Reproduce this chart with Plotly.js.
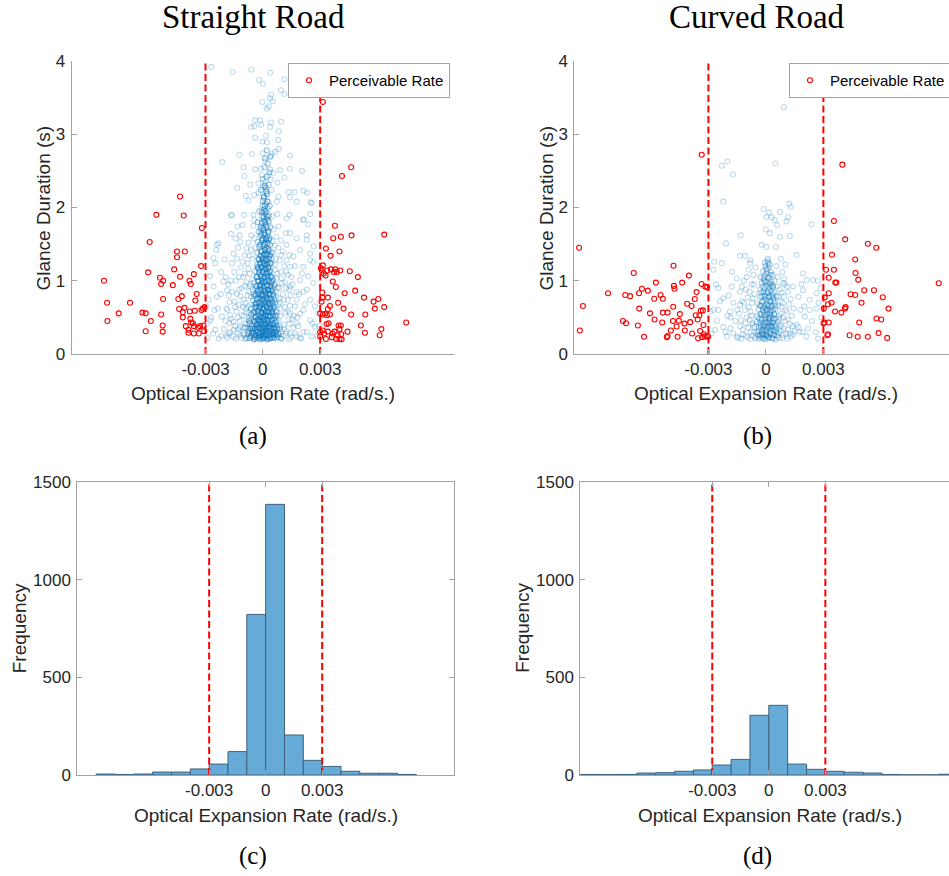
<!DOCTYPE html>
<html><head><meta charset="utf-8">
<script src="https://cdn.plot.ly/plotly-3.0.1.min.js"></script>
<style>html,body{margin:0;padding:0;overflow:hidden;background:#fff}#chart{width:960px;height:876px}</style>
</head><body><div id="chart"></div>
<script>
// ---------------- DATA ----------------
const thresholds = [-0.003, 0.003];
const xTickVals = [-0.003, 0, 0.003];
const xTickText = ['-0.003', '0', '0.003'];
const glanceTicks = [0, 1, 2, 3, 4];
const freqTicks = [0, 500, 1000, 1500];
const xRange = [-0.01, 0.01];
const glanceRange = [0, 4];
const freqRange = [0, 1500];
const MILLI = 1e-3; // point x values below are in mrad/s

// Straight road: glances beyond the perceivable threshold [x mrad/s, duration s]
const straightRed = [[-8.31,1.00],[-8.15,0.70],[-8.13,0.45],[-7.54,0.555],[-6.95,0.70],[-6.30,0.565],[-6.13,0.555],[-6.13,0.31],[-5.86,0.45],[-6.00,1.115],[-5.92,1.53],[-5.57,1.90],[-5.38,1.04],[-5.32,0.955],[-5.22,1.00],[-5.22,0.75],[-5.32,0.54],[-5.24,0.39],[-5.24,0.305],[-4.71,0.94],[-4.64,1.155],[-4.49,1.40],[-4.49,1.32],[-4.08,1.40],[-4.33,2.15],[-4.14,1.89],[-4.33,1.055],[-4.24,0.79],[-4.42,0.75],[-4.38,0.615],[-4.19,0.57],[-4.19,0.50],[-4.10,0.63],[-4.03,0.38],[-3.89,0.33],[-3.89,0.29],[-3.82,0.58],[-3.79,0.48],[-3.75,0.43],[-3.66,0.42],[-3.61,0.28],[-3.60,0.38],[-3.84,1.00],[-3.77,0.955],[-3.61,1.09],[-3.53,0.73],[-3.46,0.82],[-3.56,0.59],[-3.35,0.28],[-3.39,0.36],[-3.28,0.38],[-3.21,0.60],[-3.23,1.20],[-3.19,1.72],[-3.14,0.62],[-3.07,0.31],[-3.11,0.39],[-3.05,0.64],
[3.14,3.44],[4.62,2.55],[4.14,2.43],[3.77,1.75],[3.68,1.58],[4.08,1.60],[4.64,1.62],[6.35,1.63],[3.30,1.44],[4.01,1.40],[3.54,1.34],[3.04,1.17],[3.14,1.21],[3.09,1.14],[3.18,1.10],[3.37,1.14],[3.56,1.155],[3.79,1.155],[3.87,1.12],[4.05,1.14],[3.72,1.12],[4.55,1.13],[4.97,1.05],[3.66,0.99],[3.28,1.07],[3.82,0.915],[3.11,0.84],[4.28,0.83],[4.83,0.865],[5.29,0.77],[5.79,0.715],[6.04,0.75],[5.86,0.62],[6.35,0.64],[7.50,0.43],[3.12,0.77],[3.40,0.77],[3.07,0.715],[3.94,0.70],[3.51,0.655],[3.40,0.615],[4.22,0.62],[3.00,0.555],[3.14,0.54],[3.25,0.55],[3.35,0.53],[3.51,0.54],[4.62,0.54],[5.36,0.54],[3.33,0.41],[3.44,0.42],[3.96,0.39],[4.08,0.39],[4.01,0.34],[5.13,0.39],[6.20,0.34],[3.00,0.30],[3.14,0.32],[3.21,0.28],[3.40,0.305],[3.65,0.28],[3.75,0.305],[3.91,0.255],[4.10,0.27],[4.43,0.305],[5.34,0.29],[6.11,0.255],[3.30,0.205],[3.61,0.23],[3.84,0.205],[4.01,0.205],[4.12,0.20],[3.00,0.24]];

// Straight road: glances within the threshold, dense column near zero
const straightBlueCore = [[-0.85,0.22],[-0.62,0.25],[-0.41,0.21],[-0.2,0.23],[0.02,0.21],[0.18,0.24],[0.37,0.22],[0.55,0.26],[0.78,0.23],[0.95,0.21],[-0.74,0.31],[-0.5,0.29],[-0.33,0.33],[-0.11,0.28],[0.08,0.31],[0.27,0.29],[0.46,0.33],[0.66,0.3],[0.88,0.34],[-0.93,0.36],[-0.58,0.38],[-0.27,0.4],[-0.05,0.37],[0.14,0.41],[0.33,0.38],[0.52,0.42],[0.71,0.39],[-0.44,0.44],[0.03,0.45],[0.41,0.27],[-0.16,0.35],[0.22,0.34],[-0.37,0.26],[0.6,0.36],[-0.68,0.42],[0.1,0.25],[-0.25,0.3],[0.3,0.43],[-0.02,0.32],[0.48,0.23],[-0.53,0.34],[0.83,0.28],[-0.08,0.42],[0.25,0.21],[-0.3,0.37],[0.12,0.36],[0.4,0.31],[-0.15,0.24],[0.05,0.27],[-0.45,0.23],[0.63,0.43],[-0.78,0.27],[0.19,0.3],[-0.06,0.22],[0.35,0.35],[-0.21,0.44],[0.08,0.39],[0.55,0.3],[-0.35,0.42],[0.72,0.25],
[-0.6,0.47],[-0.38,0.5],[-0.17,0.46],[0.04,0.49],[0.22,0.47],[0.41,0.51],[0.6,0.48],[-0.5,0.56],[-0.28,0.54],[-0.07,0.57],[0.13,0.55],[0.31,0.58],[0.5,0.55],[0.7,0.57],[-0.62,0.62],[-0.42,0.64],[-0.2,0.61],[0.0,0.63],[0.19,0.66],[0.38,0.62],[0.57,0.65],[-0.33,0.7],[-0.12,0.68],[0.08,0.71],[0.27,0.69],[0.46,0.72],[0.65,0.7],[-0.52,0.73],[-0.24,0.77],[-0.03,0.75],[0.16,0.78],[0.35,0.76],[0.54,0.79],[-0.45,0.79],[0.1,0.52],[-0.1,0.5],[0.28,0.53],[-0.3,0.59],[0.45,0.6],[0.06,0.6],[-0.15,0.65],[0.22,0.74],[-0.05,0.79],[0.4,0.67],[0.12,0.67],[-0.38,0.67],[0.3,0.46],[-0.25,0.48],[0.18,0.58],[-0.08,0.72],[0.6,0.74],[0.03,0.54],
[-0.48,0.82],[-0.27,0.84],[-0.06,0.81],[0.13,0.85],[0.32,0.83],[0.51,0.86],[-0.38,0.9],[-0.16,0.92],[0.04,0.89],[0.23,0.93],[0.42,0.9],[0.6,0.94],[-0.45,0.98],[-0.24,1.0],[-0.03,0.97],[0.16,1.01],[0.35,0.98],[0.53,1.02],[-0.33,1.06],[-0.12,1.08],[0.08,1.05],[0.27,1.09],[0.46,1.06],[-0.4,1.13],[-0.19,1.15],[0.01,1.12],[0.2,1.16],[0.39,1.14],[-0.08,1.19],[0.12,1.2],[0.31,1.18],[-0.28,1.19],[0.1,0.88],[-0.1,0.95],[0.28,0.87],[0.06,0.99],[-0.02,1.03],[0.22,1.12],[0.15,0.81],[-0.2,0.86],[0.44,0.97],[0.05,1.15],
[-0.32,1.22],[-0.12,1.25],[0.07,1.23],[0.26,1.26],[0.45,1.24],[-0.24,1.3],[-0.04,1.32],[0.15,1.29],[0.34,1.33],[-0.3,1.38],[-0.1,1.4],[0.09,1.37],[0.28,1.41],[0.46,1.39],[-0.18,1.46],[0.02,1.48],[0.21,1.45],[0.38,1.49],[-0.26,1.53],[-0.06,1.55],[0.13,1.52],[0.31,1.56],[-0.13,1.61],[0.06,1.63],[0.24,1.6],[0.0,1.27],[0.18,1.35],[0.11,1.43],[-0.02,1.58],[0.16,1.57],
[-0.22,1.67],[0.03,1.69],[0.29,1.68],[-0.1,1.74],[0.15,1.76],[0.4,1.73],[-0.27,1.8],[0.05,1.82],[0.22,1.84],[-0.05,1.88],[0.12,1.91],[0.33,1.89],[-0.18,1.95],[0.07,1.97],[0.26,1.99],[-0.02,2.03],[0.17,2.05],[0.0,2.09],[0.36,2.02],[-0.12,1.71],
[0.05,2.13],[0.22,2.18],[-0.1,2.24],[0.14,2.27],[0.3,2.31],[0.0,2.39],[0.19,2.42],[0.35,2.48],[0.08,2.55],[0.26,2.6],[0.12,2.67],[0.4,2.7],[0.2,2.78]];

// Straight road: the darkest part of the column
const straightBlueDense = [[-0.47,0.2],[-0.29,0.22],[-0.13,0.2],[0.07,0.22],[0.23,0.2],[0.39,0.21],[0.58,0.22],[-0.39,0.25],[-0.22,0.26],[-0.03,0.25],[0.15,0.27],[0.32,0.25],[0.5,0.27],[-0.5,0.3],[-0.35,0.31],[-0.18,0.29],[0.0,0.3],[0.16,0.32],[0.34,0.31],[0.52,0.29],[-0.43,0.35],[-0.24,0.36],[-0.09,0.34],[0.06,0.35],[0.25,0.37],[0.43,0.36],[0.6,0.35],[-0.33,0.4],[-0.14,0.41],[0.03,0.4],[0.2,0.42],[0.38,0.41],[0.55,0.4],[-0.46,0.45],[-0.27,0.46],[-0.1,0.45],[0.09,0.47],[0.26,0.45],[0.45,0.46],[-0.36,0.51],[-0.19,0.52],[-0.01,0.5],[0.17,0.52],[0.35,0.51],[0.53,0.52],[-0.44,0.57],[-0.25,0.58],[-0.06,0.56],[0.11,0.58],[0.28,0.57],[0.47,0.58],[-0.34,0.63],[-0.16,0.64],[0.03,0.62],[0.21,0.64],[0.39,0.63],[0.56,0.62],[-0.4,0.69],[-0.22,0.7],[-0.04,0.68],[0.14,0.7],[0.32,0.69],[0.5,0.7],[-0.31,0.75],[-0.13,0.76],[0.05,0.74],[0.23,0.76],[0.41,0.75],[-0.37,0.81],[-0.18,0.82],[0.0,0.8],[0.18,0.83],[0.36,0.81],[0.53,0.82],[-0.28,0.87],[-0.09,0.88],[0.09,0.86],[0.27,0.88],[0.45,0.87],[-0.33,0.93],[-0.14,0.94],[0.04,0.92],[0.22,0.94],[0.39,0.93],[-0.24,0.99],[-0.06,1.0],[0.12,0.98],[0.3,1.0],[0.48,0.99],[-0.3,1.05],[-0.11,1.06],[0.07,1.04],[0.25,1.06],[0.41,1.05],[-0.2,1.11],[-0.01,1.12],[0.17,1.1],[0.34,1.12],[-0.25,1.17],[-0.07,1.18],[0.11,1.16],[0.28,1.18],[-0.15,1.23],[0.04,1.24],[0.21,1.22],[0.37,1.24],[-0.2,1.29],[-0.02,1.3],[0.15,1.28],[0.31,1.3],
[-0.12,1.34],[0.05,1.35],[0.22,1.36],[0.38,1.35],[-0.05,1.41],[0.12,1.42],[0.3,1.43],[-0.15,1.49],[0.08,1.5],[0.25,1.51],[0.0,1.56],[0.18,1.57],[0.35,1.58],[-0.08,1.64],[0.1,1.65],[0.28,1.66],[0.02,1.72],[0.2,1.73],[-0.06,1.79],[0.12,1.8],[0.3,1.81],[0.05,1.87],[0.22,1.88],[-0.03,1.94],[0.15,1.95],[0.1,2.02],[0.25,2.08],[0.05,2.15],[0.18,2.22],[0.1,2.3],
[-0.7,0.22],[-0.58,0.28],[0.68,0.27],[0.75,0.35],[-0.65,0.35],[-0.72,0.45],[0.7,0.44],[0.65,0.52],[-0.6,0.54]];

// Straight road: glances within the threshold, wider spread
const straightBlueSpread = [[-1.55,0.24],[-1.3,0.29],[-1.12,0.22],[1.08,0.25],[1.25,0.31],[1.48,0.23],[-1.45,0.38],[-1.2,0.45],[-0.98,0.52],[1.1,0.4],[1.35,0.47],[1.58,0.36],[-1.38,0.58],[-1.05,0.64],[-0.85,0.57],[0.9,0.62],[1.18,0.56],[1.42,0.66],[-1.5,0.72],[-1.18,0.79],[-0.9,0.7],[0.85,0.76],[1.05,0.82],[1.3,0.74],[-1.25,0.88],[-0.95,0.93],[-0.75,0.86],[0.78,0.91],[1.0,0.97],[1.22,0.9],[-1.4,1.0],[-1.02,1.05],[-0.7,1.1],[0.72,1.04],[0.95,1.12],[1.3,1.08],[-1.15,1.18],[-0.8,1.24],[-0.55,1.3],[0.62,1.22],[0.88,1.28],[1.12,1.2],[-0.95,1.35],[-0.62,1.42],[0.55,1.38],[0.8,1.45],[1.05,1.4],[-0.75,1.52],[-0.45,1.58],[0.5,1.54],[0.7,1.6],[-0.8,0.35],[0.82,0.45],[-0.72,0.49],[0.95,0.3],[-1.0,0.28],[-0.9,0.42],[0.75,0.53],[-0.75,0.65],[0.8,0.68],[-0.68,0.95],[0.68,0.85],[-0.62,0.78],[0.65,1.15],[-0.55,1.02],[-1.65,0.48],[1.62,0.52],[-1.72,0.3],[1.7,0.28],[-1.6,0.85],[1.55,0.95],[-1.35,1.3],[1.38,1.35],[-1.2,1.62],[1.2,1.65],[-0.6,0.24],[0.7,0.21],[-0.52,0.88],[0.58,0.9],[-0.4,1.45],[0.45,1.3],
[-1.42,0.21],[-1.18,0.26],[-0.92,0.2],[-0.7,0.29],[0.8,0.27],[0.98,0.21],[1.2,0.28],[1.38,0.2],[-1.28,0.34],[-1.02,0.36],[-0.82,0.41],[0.88,0.37],[1.12,0.34],[1.4,0.41],[-1.55,0.44],[-0.65,0.34],[0.7,0.31],[-1.3,0.5],[-1.1,0.53],[-0.88,0.62],[-0.7,0.56],[0.72,0.6],[0.92,0.52],[1.15,0.64],[1.32,0.58],[1.52,0.48],[-1.45,0.64],[-1.25,0.67],[-1.0,0.74],[-0.8,0.8],[0.7,0.78],[0.9,0.7],[1.1,0.74],[1.45,0.8],[-1.35,0.82],[-1.1,0.9],[-0.85,0.98],[-0.66,0.92],[0.66,0.96],[0.85,0.9],[1.15,0.98],[1.38,0.88],[-1.25,1.05],[-0.95,1.1],[-0.75,1.16],[0.75,1.1],[0.98,1.03],[1.22,1.12],[-1.5,1.12],[1.5,1.05],[-1.05,1.26],[-0.7,1.34],[0.68,1.3],[0.95,1.35],[1.25,1.28],[-1.3,1.45],[-0.85,1.44],[0.65,1.48],[0.95,1.55],[-0.6,1.62],[0.55,1.7],[-0.5,1.75],[-0.45,1.83],[0.5,1.88],[-1.85,0.6],[-1.75,0.42],[1.8,0.5],[1.68,0.65],[-1.78,0.8],[1.75,0.85],[-1.9,0.25],[1.95,0.22],[-1.68,1.0],[1.68,1.2],
[-2.9,0.22],[-2.6,0.28],[-2.3,0.21],[-2.05,0.34],[-1.85,0.22],[2.0,0.21],[2.3,0.3],[2.85,0.25],[2.6,0.42],[-2.7,0.5],[-2.35,0.62],[-1.95,0.45],[1.95,0.55],[2.2,0.68],[2.9,0.55],[-2.9,0.42],[-1.9,0.62],[1.9,0.82],[2.3,0.88],[-2.2,0.82],[-1.95,1.05],[2.05,1.1],[-2.95,0.65],[2.95,0.38],[-1.8,0.95],[1.85,0.38],
[-2.70,3.92],[-1.59,3.85],[-0.61,3.88],[0.38,3.84],[1.13,3.75],[-0.19,3.74],[0.0,3.69],[0.94,3.60],[1.13,3.55],[0.43,3.54],[0.38,3.49],[0.52,3.45],[-0.02,3.44],[0.31,3.38],[0.21,3.35],[-0.40,3.19],[-0.14,3.19],[-0.09,3.13],[-0.61,3.10],[-0.44,3.11],[0.38,3.10],[0.43,3.16],[0.95,3.17],[0.17,2.98],[0.83,3.04],[-0.40,2.95],[-0.02,2.90],[0.22,2.89],[0.80,2.92],[0.82,2.80],[0.64,2.76],[0.47,2.73],[0.38,2.69],[0.0,2.74],[-0.58,2.73],[-1.22,2.72],[-2.12,2.62],[1.42,2.71],[0.12,2.63],[-0.10,2.53],[-0.39,2.52],[-1.01,2.55],[0.38,2.52],[0.90,2.51],[0.55,2.47],[0.29,2.44],[-0.05,2.44],[-0.96,2.43],[1.42,2.53],[2.05,2.50],[1.13,2.41],[0.76,2.34],[0.42,2.38],[0.12,2.35],[-0.23,2.33],[-0.66,2.31],[0.0,2.28],[-1.34,2.27],[1.34,2.21],[1.65,2.21],[2.12,2.23],[2.31,2.20],[0.45,2.24],[0.21,2.19],[-0.23,2.20],[-0.45,2.17],[-0.89,2.16],[-0.75,2.10],[0.82,2.15],[1.42,2.14],[0.73,2.08],[1.77,2.08],[2.50,2.07],
[-1.62,1.89],[-0.98,1.90],[-0.49,1.90],[0.76,1.91],[1.39,1.90],[2.12,1.84],[2.38,1.77],[-1.67,1.64],[-1.06,1.76],[-1.18,1.53],[-1.43,1.58],[-2.32,1.51],[-2.44,1.42],[-2.00,1.29],[-2.49,1.24],[-1.62,1.24],[-1.53,1.37],[-2.19,1.12],[-2.75,1.06],[-2.58,0.92],[-2.06,0.99],[-2.84,0.74],[-2.40,0.78],[-1.88,0.87],[-1.74,0.71],[-2.54,0.60],[-2.75,0.46],[-2.14,0.51],[-1.71,0.53],[-2.49,0.33],[-2.18,0.25],[-1.53,0.33],[-1.18,0.37],[-1.79,0.28],[-1.01,0.26],[1.25,1.85],[0.82,1.74],[1.42,1.65],[1.77,1.58],[2.30,1.62],[1.25,1.49],[1.95,1.42],[1.60,1.33],[2.47,1.37],[2.64,1.26],[2.12,1.19],[1.42,1.19],[2.38,1.06],[1.95,1.01],[2.64,0.97],[1.42,0.92],[2.12,0.85],[2.47,0.74],[1.77,0.74],[2.73,0.65],[2.12,0.60],[1.42,0.56],[2.47,0.46],[1.77,0.42],[2.73,0.37],[2.12,0.30],[1.42,0.28],[2.56,0.24],[1.77,0.24],
[2.57,2.06],[2.48,1.91],[2.13,1.83],[-1.66,1.90],[-1.33,1.74],[-2.41,1.49],[-2.58,1.31],[2.30,1.56],[2.65,1.47],[2.48,1.28]];

// Curved road: glances beyond the perceivable threshold
const curvedRed = [[-9.75,1.45],[-9.71,0.32],[-9.55,0.655],[-8.24,0.83],[-7.46,0.45],[-7.30,0.42],[-7.34,0.805],[-7.09,0.79],[-6.90,1.105],[-6.68,0.39],[-6.62,0.83],[-6.61,0.62],[-6.47,0.89],[-6.36,0.235],[-6.16,0.865],[-6.05,0.555],[-5.81,0.47],[-5.74,0.975],[-5.83,0.755],[-5.50,0.805],[-5.41,0.43],[-5.38,0.755],[-5.38,0.565],[-5.13,0.565],[-5.17,0.23],[-5.13,0.245],[-4.96,0.32],[-4.85,0.45],[-4.84,0.645],[-4.82,1.205],[-4.80,0.93],[-4.77,0.89],[-4.66,0.375],[-4.61,0.235],[-4.54,0.455],[-4.49,0.545],[-4.37,0.975],[-4.25,0.415],[-4.23,0.32],[-4.11,0.685],[-4.02,1.07],[-3.95,0.435],[-3.88,0.655],[-3.85,0.28],[-3.71,0.75],[-3.66,0.53],[-3.62,0.845],[-3.56,0.47],[-3.54,0.215],[-3.47,0.53],[-3.43,0.315],[-3.40,0.59],[-3.36,0.955],[-3.35,2.72],[-3.33,0.23],[-3.29,0.595],[-3.26,0.395],[-3.24,0.27],[-3.17,0.92],[-3.07,0.91],[-3.05,0.245],[-3.02,0.235],[-3.19,0.24],
[3.14,1.15],[3.28,1.04],[3.28,0.83],[3.07,0.77],[3.02,0.62],[3.24,0.68],[3.43,0.70],[3.55,1.15],[3.45,1.355],[3.55,1.815],[4.14,1.565],[3.99,2.585],[3.62,0.975],[3.68,0.975],[3.61,0.58],[3.94,0.565],[4.13,0.62],[4.16,0.64],[4.42,0.815],[4.66,0.805],[4.66,1.29],[4.68,1.105],[4.82,1.015],[4.99,0.70],[5.13,0.87],[5.32,1.505],[5.64,0.87],[5.76,1.45],[6.10,0.775],[6.40,0.62],[5.77,0.485],[6.02,0.47],[4.87,0.43],[5.88,0.285],[5.32,0.235],[4.79,0.235],[4.37,0.255],[6.33,0.22],[9.02,0.965],[3.28,0.43],[3.01,0.42],[3.05,0.43],[3.24,0.27],[3.21,0.255]];

// Curved road: glances within the threshold, column near zero
const curvedBlueCore = [[-0.55,0.22],[-0.32,0.24],[-0.1,0.21],[0.12,0.23],[0.35,0.22],[0.58,0.25],[-0.45,0.3],[-0.22,0.28],[0.0,0.31],[0.23,0.29],[0.46,0.32],[0.66,0.29],[-0.6,0.37],[-0.36,0.36],[-0.14,0.39],[0.08,0.36],[0.3,0.38],[0.52,0.4],[-0.48,0.44],[-0.25,0.46],[-0.03,0.43],[0.19,0.45],[0.41,0.47],[0.62,0.44],[-0.15,0.26],[0.05,0.27],[0.26,0.34],[-0.08,0.34],[0.4,0.26],[-0.38,0.49],[0.14,0.49],[-0.28,0.4],[0.33,0.43],[-0.05,0.47],[0.55,0.34],[0.0,0.24],[0.2,0.39],[-0.2,0.33],[0.1,0.42],[-0.42,0.26],
[-0.47,0.52],[-0.24,0.55],[-0.02,0.53],[0.2,0.56],[0.42,0.54],[-0.38,0.61],[-0.15,0.63],[0.07,0.6],[0.29,0.64],[0.5,0.62],[-0.44,0.69],[-0.2,0.71],[0.02,0.68],[0.24,0.72],[0.45,0.7],[-0.3,0.78],[-0.08,0.8],[0.14,0.77],[0.35,0.81],[0.55,0.79],[-0.12,0.57],[0.12,0.65],[-0.05,0.75],[0.3,0.58],[0.08,0.84],[-0.25,0.84],[0.22,0.51],[-0.32,0.66],[0.38,0.76],[0.0,0.62],
[-0.3,0.88],[-0.08,0.9],[0.14,0.87],[0.36,0.91],[-0.22,0.97],[0.0,0.99],[0.22,0.96],[0.44,1.0],[-0.28,1.05],[-0.06,1.07],[0.16,1.04],[0.34,1.08],[-0.15,1.13],[0.06,1.15],[0.27,1.12],[-0.02,1.2],[0.2,1.22],[0.08,1.27],[0.12,1.24],[-0.1,1.01],[0.3,0.94],[0.04,1.1],
[-0.38,0.21],[-0.2,0.22],[-0.02,0.2],[0.16,0.22],[0.33,0.21],[0.5,0.2],[-0.3,0.26],[-0.12,0.27],[0.06,0.25],[0.24,0.27],[0.42,0.26],[-0.36,0.32],[-0.17,0.31],[0.01,0.33],[0.18,0.31],[0.37,0.32],[0.53,0.3],[-0.26,0.37],[-0.07,0.38],[0.13,0.37],[0.29,0.38],[0.46,0.37],[-0.33,0.43],[-0.14,0.42],[0.04,0.44],[0.22,0.42],[0.39,0.43],[-0.21,0.48],[-0.02,0.49],[0.17,0.48],[0.34,0.49],[0.5,0.48],[-0.29,0.54],[-0.1,0.53],[0.09,0.55],[0.26,0.53],[0.44,0.55],[-0.17,0.6],[0.02,0.59],[0.2,0.6],[0.37,0.6],[-0.25,0.66],[-0.06,0.65],[0.13,0.67],[0.31,0.66],[0.48,0.66],[-0.14,0.72],[0.05,0.73],[0.23,0.72],[0.4,0.73],[-0.2,0.79],[-0.01,0.78],[0.18,0.79],[0.34,0.78],[-0.12,0.85],[0.07,0.84],[0.25,0.86],[0.42,0.84],[-0.18,0.92],[0.02,0.93],[0.19,0.91],[0.36,0.92],[-0.06,0.98],[0.12,0.97],[0.28,0.99],[-0.12,1.04],[0.08,1.05],[0.22,1.08],[0.0,1.16],[0.15,1.18],[-0.05,1.25],[0.1,1.3]];

// Curved road: glances within the threshold, wider spread
const curvedBlueSpread = [[-1.45,0.22],[-1.2,0.27],[-0.95,0.23],[-0.78,0.3],[0.85,0.22],[1.05,0.28],[1.3,0.24],[1.5,0.31],[-1.35,0.38],[-1.05,0.42],[-0.85,0.47],[0.8,0.38],[1.0,0.45],[1.25,0.41],[-1.4,0.55],[-1.1,0.6],[-0.8,0.58],[0.78,0.55],[1.02,0.6],[1.35,0.52],[-1.25,0.72],[-0.95,0.77],[-0.72,0.7],[0.75,0.72],[0.95,0.78],[1.2,0.68],[-1.05,0.88],[-0.75,0.95],[0.72,0.88],[0.98,0.95],[-0.65,1.08],[0.62,1.05],[-0.9,1.15],[0.85,1.12],[-1.6,0.45],[1.6,0.4],[-1.7,0.28],[1.75,0.3],[-0.7,0.25],[0.75,0.32],[-1.15,1.0],[1.15,0.85],[-0.68,0.4],[0.7,0.48],[-0.6,0.82],[0.65,0.65],
[-1.3,0.21],[-1.05,0.25],[-0.8,0.2],[-0.62,0.3],[0.68,0.22],[0.9,0.26],[1.12,0.21],[1.4,0.27],[-1.2,0.33],[-0.92,0.36],[-0.7,0.42],[0.72,0.4],[0.92,0.35],[1.15,0.33],[1.4,0.38],[-1.3,0.46],[-1.0,0.5],[-0.75,0.52],[0.68,0.52],[0.9,0.5],[1.15,0.47],[-1.5,0.6],[-0.9,0.64],[0.82,0.64],[1.1,0.58],[1.45,0.62],[-1.15,0.7],[-0.68,0.76],[0.66,0.78],[0.88,0.7],[1.3,0.75],[-1.35,0.85],[-0.85,0.85],[0.82,0.84],[1.1,0.92],[-0.62,0.95],[0.6,0.92],[-1.0,1.05],[0.95,1.03],[-0.55,1.18],[0.55,1.2],[-0.8,1.28],[0.78,1.3],[-1.85,0.5],[1.8,0.6],[-2.1,0.3],[2.2,0.35],[-1.7,0.7],[1.7,0.78],
[-2.9,0.58],[-2.85,0.28],[-2.55,0.45],[-2.4,0.72],[-2.0,0.52],[-1.95,0.8],[-2.6,0.95],[2.0,0.65],[2.4,0.45],[2.75,0.7],[2.6,0.3],[2.9,0.5],[1.85,0.95],[2.85,0.9],[-1.85,0.35],[1.9,0.3],
[0.94,3.37],[-2.30,2.57],[-2.01,2.63],[-1.72,2.45],[0.50,2.60],[-2.22,2.08],[-0.12,1.98],[0.16,1.93],[1.21,2.05],[1.30,2.01],[0.73,1.94],[0.03,1.87],[0.29,1.87],[0.47,1.83],[1.16,1.87],[1.07,1.81],[0.59,1.76],[2.38,1.77],[0.0,1.70],
[-1.32,1.62],[-2.08,1.51],[0.21,1.65],[0.73,1.60],[1.25,1.61],[-0.22,1.49],[0.03,1.46],[0.52,1.46],[1.60,1.35],[-1.35,1.34],[-1.09,1.34],[-2.70,1.26],[-2.30,1.24],[-0.83,1.24],[1.02,1.22],[2.12,1.01],[2.46,1.01],[2.72,1.00],[1.94,1.10],[-2.74,1.15],[-1.78,1.12],[-1.52,1.03],[-1.78,0.92],[-1.26,0.92],[-2.48,0.90],[0.90,0.97],[1.42,0.92],[1.94,0.87],[2.64,0.83],[2.29,0.74],[-2.22,0.76],[-2.74,0.60],[-2.48,0.60],[-1.87,0.58],[-1.35,0.67],[2.29,0.60],[2.64,0.62],[2.03,0.51],[-2.22,0.37],[-2.65,0.33],[-1.52,0.24],[-2.04,0.24],[2.12,0.24],[2.72,0.21],[1.68,0.37],[1.25,0.28]];

// Histograms (bin width 0.001 rad/s)
const straightBinLeft = [-0.009,-0.008,-0.007,-0.006,-0.005,-0.004,-0.003,-0.002,-0.001,0,0.001,0.002,0.003,0.004,0.005,0.006,0.007];
const straightCounts  = [5,3,5,15,15,31,56,120,823,1387,205,75,44,19,9,9,3];
const curvedBinLeft = [-0.010,-0.009,-0.008,-0.007,-0.006,-0.005,-0.004,-0.003,-0.002,-0.001,0,0.001,0.002,0.003,0.004,0.005,0.006,0.007,0.008,0.009];
const curvedCounts  = [3,2,3,10,12,19,26,51,80,306,357,56,29,19,14,10,3,1,1,4];
const binWidth = 0.001;

// ---------------- STYLE / LAYOUT ----------------
const W = 960, H = 876;
const px = v => v / W, py = v => 1 - v / H;
const SANS = 'Liberation Sans, Arial, Helvetica, sans-serif';
const SERIF = 'Liberation Serif, Times New Roman, serif';
const lineCol = '#a3a3a3';
const textCol = '#262626';
const blueRing = 'rgba(0,114,189,0.25)';
const blueMid = 'rgba(0,114,189,0.4)';
const blueDense = 'rgba(0,114,189,0.55)';
const tickFont = {family: SANS, size: 17, color: textCol};

const boxes = {
  tl: {l: 71.7, r: 454, t: 61, b: 354},
  tr: {l: 574.3, r: 957.5, t: 61, b: 354},
  bl: {l: 77.3, r: 454, t: 482.3, b: 775},
  br: {l: 580.3, r: 957.3, t: 482.3, b: 775}
};

const toXY = arr => ({x: arr.map(p => p[0] * MILLI), y: arr.map(p => p[1])});

function ringTrace(arr, xa, ya, color, extra) {
  const d = toXY(arr);
  return Object.assign({type: 'scatter', mode: 'markers', x: d.x, y: d.y, xaxis: xa, yaxis: ya,
    marker: {symbol: 'circle-open', size: 5, color: color, line: {width: 1.1, color: color}},
    hoverinfo: 'skip', showlegend: false, cliponaxis: true}, extra || {});
}
function thresholdTrace(xa, ya, top) {
  return {type: 'scatter', mode: 'lines', xaxis: xa, yaxis: ya,
    x: [thresholds[0], thresholds[0], null, thresholds[1], thresholds[1]],
    y: [0, top, null, 0, top],
    line: {color: '#ff0000', width: 2, dash: '7px,3.5px'}, hoverinfo: 'skip', showlegend: false};
}
function barTrace(lefts, counts, xa, ya) {
  return {type: 'bar', x: lefts, y: counts, width: binWidth, offset: 0, xaxis: xa, yaxis: ya,
    marker: {color: '#66aad7', line: {color: '#41627c', width: 1}}, hoverinfo: 'skip', showlegend: false};
}

const traces = [
  ringTrace(straightBlueSpread, 'x', 'y', blueRing),
  ringTrace(straightBlueCore, 'x', 'y', blueMid),
  ringTrace(straightBlueDense, 'x', 'y', blueDense),
  ringTrace(straightRed, 'x', 'y', '#ff0000', {name: 'Perceivable Rate', showlegend: true, legend: 'legend'}),
  thresholdTrace('x', 'y', glanceRange[1]),
  ringTrace(curvedBlueSpread, 'x2', 'y2', blueRing),
  ringTrace(curvedBlueCore, 'x2', 'y2', 'rgba(0,114,189,0.33)'),
  ringTrace(curvedRed, 'x2', 'y2', '#ff0000', {name: 'Perceivable Rate', showlegend: true, legend: 'legend2'}),
  thresholdTrace('x2', 'y2', glanceRange[1]),
  barTrace(straightBinLeft, straightCounts, 'x3', 'y3'),
  thresholdTrace('x3', 'y3', freqRange[1]),
  barTrace(curvedBinLeft, curvedCounts, 'x4', 'y4'),
  thresholdTrace('x4', 'y4', freqRange[1])
];

function xAxis(b, anchor, mirror) {
  return {domain: [px(b.l), px(b.r)], anchor: anchor, range: xRange, tickmode: 'array',
    tickvals: xTickVals, ticktext: xTickText, ticks: 'inside', ticklen: 5, tickcolor: lineCol,
    showline: true, linecolor: lineCol, linewidth: 1, mirror: mirror, showgrid: false, zeroline: false,
    tickfont: tickFont, fixedrange: true, automargin: false};
}
function yAxis(b, anchor, range, tickvals, mirror) {
  return {domain: [py(b.b), py(b.t)], anchor: anchor, range: range, tickmode: 'array',
    tickvals: tickvals, ticks: 'inside', ticklen: 5, tickcolor: lineCol,
    showline: true, linecolor: lineCol, linewidth: 1, mirror: mirror, showgrid: false, zeroline: false,
    tickfont: tickFont, fixedrange: true, automargin: false, ticklabelstandoff: 2};
}

function ann(text, x, y, size, family, angle) {
  return {text: text, xref: 'paper', yref: 'paper', x: px(x), y: py(y), xanchor: 'center', yanchor: 'middle',
    showarrow: false, textangle: angle || 0, font: {family: family, size: size, color: family === SERIF ? '#000' : textCol}};
}
const xTitle = 'Optical Expansion Rate (rad/s.)';
const annotations = [
  ann('Straight Road', 253, 17, 33, SERIF),
  ann('Curved Road', 757, 17, 33, SERIF),
  ann('(a)', 253, 436, 25, SERIF),
  ann('(b)', 757, 436, 25, SERIF),
  ann('(c)', 253, 856, 25, SERIF),
  ann('(d)', 757, 856, 25, SERIF),
  ann(xTitle, 263, 394, 19, SANS),
  ann(xTitle, 766, 394, 19, SANS),
  ann(xTitle, 266, 815, 19, SANS),
  ann(xTitle, 769.5, 815, 19, SANS),
  ann('Glance Duration (s)', 43.3, 208.3, 19, SANS, -90),
  ann('Glance Duration (s)', 546.3, 208.3, 19, SANS, -90),
  ann('Frequency', 19, 628.3, 19, SANS, -90),
  ann('Frequency', 522.5, 628.3, 19, SANS, -90)
];

const legendStyle = {xanchor: 'left', yanchor: 'top', bgcolor: '#ffffff', bordercolor: lineCol, borderwidth: 1,
  font: {family: SANS, size: 15, color: '#000'}};

const layout = {
  width: W, height: H, margin: {l: 0, r: 0, t: 0, b: 0}, paper_bgcolor: '#fff', plot_bgcolor: '#fff',
  showlegend: true, bargap: 0,
  xaxis: xAxis(boxes.tl, 'y', false),
  yaxis: yAxis(boxes.tl, 'x', glanceRange, glanceTicks, false),
  xaxis2: xAxis(boxes.tr, 'y2', false),
  yaxis2: yAxis(boxes.tr, 'x2', glanceRange, glanceTicks, false),
  xaxis3: xAxis(boxes.bl, 'y3', 'ticks'),
  yaxis3: yAxis(boxes.bl, 'x3', freqRange, freqTicks, 'ticks'),
  xaxis4: xAxis(boxes.br, 'y4', 'ticks'),
  yaxis4: yAxis(boxes.br, 'x4', freqRange, freqTicks, 'ticks'),
  legend: Object.assign({x: px(288), y: py(63)}, legendStyle),
  legend2: Object.assign({x: px(789), y: py(63)}, legendStyle),
  annotations: annotations
};

Plotly.newPlot('chart', traces, layout, {staticPlot: true, displayModeBar: false});
</script></body></html>
